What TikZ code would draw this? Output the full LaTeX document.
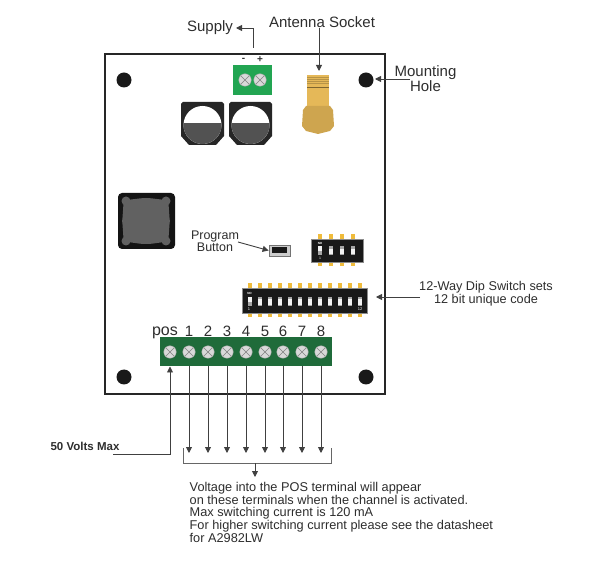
\documentclass[tikz,border=0pt]{standalone}
\usepackage{fontspec}
\setmainfont{Liberation Sans}
\usetikzlibrary{arrows.meta}
\definecolor{txt}{HTML}{2E2E2E}
\definecolor{pingold}{HTML}{F0BC3C}
\definecolor{gold}{HTML}{E5B858}
\definecolor{termgreen}{HTML}{1F6B3A}
\definecolor{brightgreen}{HTML}{22A552}
\tikzset{
  x=1pt,y=-1pt,
  lbl/.style={font=\fontsize{15}{17}\selectfont,text=txt,inner sep=0pt,align=center},
  lead/.style={draw=black!75,line width=0.9pt,-{Triangle[length=6pt,width=6pt]}},
  hole/.style={circle,fill=black!90,minimum size=15pt,inner sep=0pt},
  screw/.style={circle,fill=black!15,draw=black!35,line width=0.4pt,minimum size=12.5pt,inner sep=0pt,
    path picture={\draw[black!50,line width=0.5pt] (path picture bounding box.north west)--(path picture bounding box.south east)
    (path picture bounding box.north east)--(path picture bounding box.south west);}},
  dipbody/.style={fill=black!90,draw=black!45,line width=0.4pt,inner sep=0pt}
}
\newcommand{\capac}[1]{%
  \begin{scope}[shift={(#1,102)}]
    \fill[black!85] (2,0)--(41,0)--(43,2)--(43,34)--(35,43)--(8,43)--(0,34)--(0,2)--cycle;
    \fill[white] (21.5,23) circle[radius=19];
    \begin{scope}\clip (0,22) rectangle (43,43);
      \fill[black!68] (21.5,23) circle[radius=19];
    \end{scope}
  \end{scope}}
\begin{document}
\begin{tikzpicture}
\useasboundingbox[fill=white] (0,0) rectangle (600,561);
% board
\node[draw=black!85,line width=2.6pt,minimum width=280pt,minimum height=340pt,inner sep=0pt] (board) at (245,224) {};
% holes
\node[hole] (h1) at (124,80) {};
\node[hole] (h2) at (366,80) {};
\node[hole] (h3) at (124,377) {};
\node[hole] (h4) at (366,377) {};
% supply connector
\node[fill=brightgreen,minimum width=39pt,minimum height=30pt,inner sep=0pt] (supply) at (252.5,80) {};
\node[screw] (s1) at (245,80) {};
\node[screw] (s2) at (260,80) {};
\node[lbl,font=\fontsize{10}{12}\selectfont\bfseries] (minus) at (243.5,60) {-};
\node[lbl,font=\fontsize{10}{12}\selectfont\bfseries] (plus) at (260,60) {+};
% capacitors
\capac{181}
\capac{229}
% antenna
\fill[gold] (307,75) rectangle (329,107);
\foreach \yy in {77,79,81,83}{\draw[gold!80!black,line width=0.4pt] (307,\yy)--(329,\yy);}
\draw[gold!55!black,line width=0.7pt] (307,87)--(329,87);
\fill[gold!90!black] (306,106)--(330,106)--(333,110)--(334,126)--(330,131)--(318,134)--(306,131)--(302,126)--(303,110)--cycle;
\coordinate (antennatip) at (319,71);
% labels top
\node[lbl] (supplytxt) at (210,28) {Supply};
\node[lbl] (anttxt) at (322,22) {Antenna Socket};
\coordinate (supplystart) at (253.5,48);
\coordinate (supplytip) at (236,28);
\draw[lead] (supplystart) |- (supplytip);
\draw[lead] (anttxt.south -| antennatip) -- (antennatip);
\node[lbl,font=\fontsize{15}{15}\selectfont] (mount) at (425.5,78.5) {Mounting\\Hole};
\coordinate (mountstart) at (410,79);
\coordinate (mounttip) at (375,79);
\draw[lead] (mountstart) -- (mounttip);
% keypad square
\fill[black!92,rounded corners=4pt] (118,193) rectangle (175,249);
\fill[black!62] (124,200) to[out=0,in=180,looseness=0.8] (146,198) to[out=0,in=180,looseness=0.8] (168,200)
  to[out=90,in=-90] (170,221) to[out=90,in=-90] (168,242)
  to[out=180,in=0] (146,244) to[out=180,in=0] (124,242)
  to[out=-90,in=90] (122,221) to[out=-90,in=90] (124,200) -- cycle;
\foreach \xx/\yy in {126/201,166/201,126/241,166/241}{\fill[black!62] (\xx,\yy) circle[radius=4.5];}
% program button
\node[lbl,font=\fontsize{12.5}{12}\selectfont] (prog) at (215,241) {Program\\Button};
\node[draw=black!55,fill=black!20,line width=0.8pt,minimum width=21pt,minimum height=11pt,inner sep=0pt] (btn) at (279.5,250.5) {};
\fill[black!90] (272,247.5) rectangle (287,253.5);
\draw[lead] (238,242) -- (btn.west);
% 4-way
\foreach \xx in {320,331,342,353}{
  \fill[pingold] (\xx-2,234) rectangle (\xx+2,266);}
\node[dipbody,minimum width=52pt,minimum height=23pt] (dipa) at (337,250.5) {};
\foreach \xx in {320,331,342,353}{
  \fill[black!35] (\xx-2,246) rectangle (\xx+2,255);
  \fill[black!5] (\xx-2,\ifnum\xx=320 246\else 249\fi) rectangle (\xx+2,\ifnum\xx=320 251\else 254\fi);}
\node[font=\fontsize{3}{3}\selectfont\bfseries,text=white,inner sep=0pt] (dipaon) at (320,243) {NO};
\node[font=\fontsize{3.5}{3.5}\selectfont,text=white,inner sep=0pt] (dipa1) at (320,258.5) {1};
% 12-way
\foreach \i in {0,...,11}{
  \pgfmathsetmacro{\xx}{249.5+\i*10.05}
  \fill[pingold] (\xx-2,283) rectangle (\xx+2,317);}
\node[dipbody,minimum width=125pt,minimum height=25pt] (dipb) at (304.5,300.5) {};
\foreach \i in {0,...,11}{
  \pgfmathsetmacro{\xx}{249.5+\i*10.05}
  \fill[black!35] (\xx-2,297) rectangle (\xx+2,306);
  \fill[black!5] (\xx-2,\ifnum\i=0 297\else 299\fi) rectangle (\xx+2,\ifnum\i=0 302\else 305\fi);}
\node[font=\fontsize{3}{3}\selectfont\bfseries,text=white,inner sep=0pt] (dipbon) at (249.5,293) {NO};
\node[font=\fontsize{4}{4}\selectfont,text=white,inner sep=0pt] (dipb1) at (249,309.5) {1};
\node[font=\fontsize{4}{4}\selectfont,text=white,inner sep=0pt] (dipb12) at (360,309.5) {12};
\node[lbl,font=\fontsize{12.7}{13}\selectfont] (dipt) at (486,293.5) {12-Way Dip Switch sets\\12 bit unique code};
\coordinate (dipstart) at (420,297);
\coordinate (diptip) at (376,297);
\draw[lead] (dipstart) -- (diptip);
% terminal block
\node[fill=termgreen,minimum width=172pt,minimum height=29pt,inner sep=0pt] (term) at (246,351.5) {};
\foreach \n/\xx in {0/170,1/189,2/208,3/227,4/246,5/265,6/283,7/302,8/321}{
  \node[screw] (t\n) at (\xx,352) {};}
\node[lbl,font=\fontsize{16}{18}\selectfont,anchor=base] (lpos) at (165,336) {pos};
\foreach \n/\xx in {1/189,2/208,3/227,4/246,5/265,6/283,7/302,8/321}{
  \node[lbl,font=\fontsize{15}{18}\selectfont,anchor=base] (l\n) at (\xx,336.5) {\n};
  \coordinate (o\n) at (\xx,453);
  \draw[lead] (\xx,366) -- (o\n);}
% input
\node[lbl,font=\fontsize{11.5}{13}\selectfont\bfseries] (max) at (85,446) {50 Volts Max};
\coordinate (in0) at (113,454);
\coordinate (posin) at (170,366.5);
\draw[lead] (in0) -| (posin);
% bracket
\coordinate (b1) at (183,448);
\coordinate (b2) at (331,448);
\draw[black!60,line width=0.7pt] (b1) |- (b2 |- 0,463) -- (b2);
\coordinate (bm) at (255,463);
\coordinate (bt) at (255,477);
\draw[lead] (bm) -- (bt);
\node[lbl,font=\fontsize{12.75}{12.7}\selectfont,align=left,anchor=north west] (body) at (189.5,482) {Voltage into the POS terminal will appear\\on these terminals when the channel is activated.\\Max switching current is 120 mA\\For higher switching current please see the datasheet\\for A2982LW};
\end{tikzpicture}
\end{document}
